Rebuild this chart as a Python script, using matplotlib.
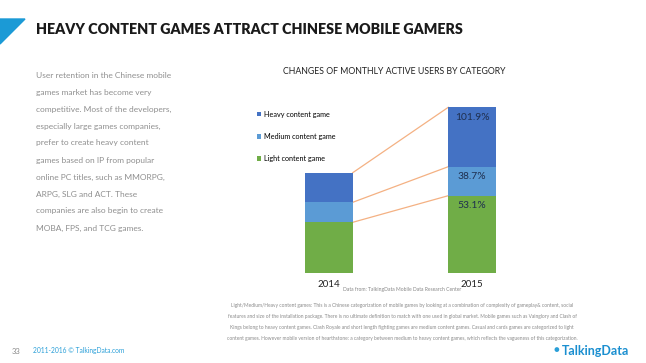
import matplotlib.pyplot as plt
from matplotlib.patches import Polygon

# data (bar heights in arbitrary units)
years = ['2014', '2015']
light = [51.0, 77.6]
medium = [20.0, 29.0]
heavy = [29.6, 59.4]
growth = ['53.1%', '38.7%', '101.9%']  # light, medium, heavy
series_names = ['Light content game', 'Medium content game', 'Heavy content game']
colors = ['#70ad47', '#5b9bd5', '#4472c4']

W, H = 646, 363
fig = plt.figure(figsize=(W / 100, H / 100), dpi=100)
plt.rcParams['font.family'] = ['Lato', 'DejaVu Sans']


def fx(x):
    return x / W


def fy(y):
    return 1 - y / H


# header
fig.patches.append(Polygon([[fx(0), fy(19)], [fx(25), fy(19)], [fx(0), fy(44)]],
                           closed=True, transform=fig.transFigure, color='#1b9ad6'))
fig.text(fx(36), fy(30), 'HEAVY CONTENT GAMES ATTRACT CHINESE MOBILE GAMERS',
         fontsize=10.3, fontweight='heavy', color='#1a1a1a', va='center', ha='left')

# left paragraph
para = ['User retention in the Chinese mobile',
        'games market has become very',
        'competitive. Most of the developers,',
        'especially large games companies,',
        'prefer to create heavy content',
        'games based on IP from popular',
        'online PC titles, such as MMORPG,',
        'ARPG, SLG and ACT. These',
        'companies are also begin to create',
        'MOBA, FPS, and TCG games.']
for i, line in enumerate(para):
    fig.text(fx(36), fy(75 + 17 * i), line, fontsize=6.0, color='#8f8f8f',
             va='center', ha='left')

# chart
ax = fig.add_axes([fx(250), fy(273.3), fx(540) - fx(250), fy(100) - fy(273.3)])
x = [0, 1]
bw = 0.332
bottom2 = [a + b for a, b in zip(light, medium)]
tops = [a + b for a, b in zip(bottom2, heavy)]
ax.bar(x, light, width=bw, color=colors[0], label=series_names[0])
ax.bar(x, medium, width=bw, bottom=light, color=colors[1], label=series_names[1])
ax.bar(x, heavy, width=bw, bottom=bottom2, color=colors[2], label=series_names[2])

# connectors between the two bars
for y0, y1 in [(light[0], light[1]), (bottom2[0], bottom2[1]), (tops[0], tops[1])]:
    ax.plot([bw / 2, 1 - bw / 2], [y0, y1], color='#f4b183', lw=0.9, zorder=0)

# growth labels on the 2015 bar
lab_y = [light[1] - 10, bottom2[1] - 10, tops[1] - 10]
for yy, g in zip(lab_y, growth):
    ax.text(1, yy, g, ha='center', va='center', fontsize=7.4, color='#1f2f4f')

ax.set_xlim(-(329 - 250) / 143, 1 + (540 - 472) / 143)
ax.set_ylim(0, 173.3)
ax.axis('off')
for xi, yr in zip(x, years):
    ax.text(xi, -11, yr, ha='center', va='center', fontsize=7, color='#222222')

h, l = ax.get_legend_handles_labels()
ax.legend(h[::-1], l[::-1], loc='upper left', bbox_to_anchor=(7 / 290, 0.985 - 8 / 173.3),
          frameon=False, fontsize=5.2, handlelength=0.6, handleheight=0.6,
          handletextpad=0.35, labelspacing=2.1, borderaxespad=0, borderpad=0)

fig.text(fx(394), fy(71), 'CHANGES OF MONTHLY ACTIVE USERS BY CATEGORY',
         fontsize=6.3, color='#222222', ha='center', va='center')
fig.text(fx(402), fy(289), 'Data from: TalkingData Mobile Data Research Center',
         fontsize=3.6, color='#888888', ha='center', va='center')

notes = ['Light/Medium/Heavy content games: This is a Chinese categorization of mobile games by looking at a combination of complexity of gameplay& content, social',
         'features and size of the installation package. There is no ultimate definition to match with one used in global market. Mobile games such as Vainglory and Clash of',
         'Kings belong to heavy content games. Clash Royale and short length fighting games are medium content games. Casual and cards games are categorized to light',
         'content games. However mobile version of hearthstone: a category between medium to heavy content games, which reflects the vagueness of this categorization.']
for i, line in enumerate(notes):
    fig.text(fx(402), fy(305 + 11.3 * i), line, fontsize=3.5, color='#8a8a8a',
             ha='center', va='center')

# footer
fig.text(fx(12), fy(351), '33', fontsize=5.5, color='#888888', va='center')
fig.text(fx(33), fy(351), '2011-2016 \u00a9 TalkingData.com', fontsize=4.8,
         color='#2a9fd8', va='center')
fig.text(fx(556), fy(351), '\u25cf', fontsize=7, color='#2a9fd8', va='center', ha='center')
fig.text(fx(562), fy(351), 'TalkingData', fontsize=9, fontweight='bold',
         color='#1b8fd0', va='center', ha='left', fontstretch='condensed')

fig.savefig('out.png', dpi=100)
